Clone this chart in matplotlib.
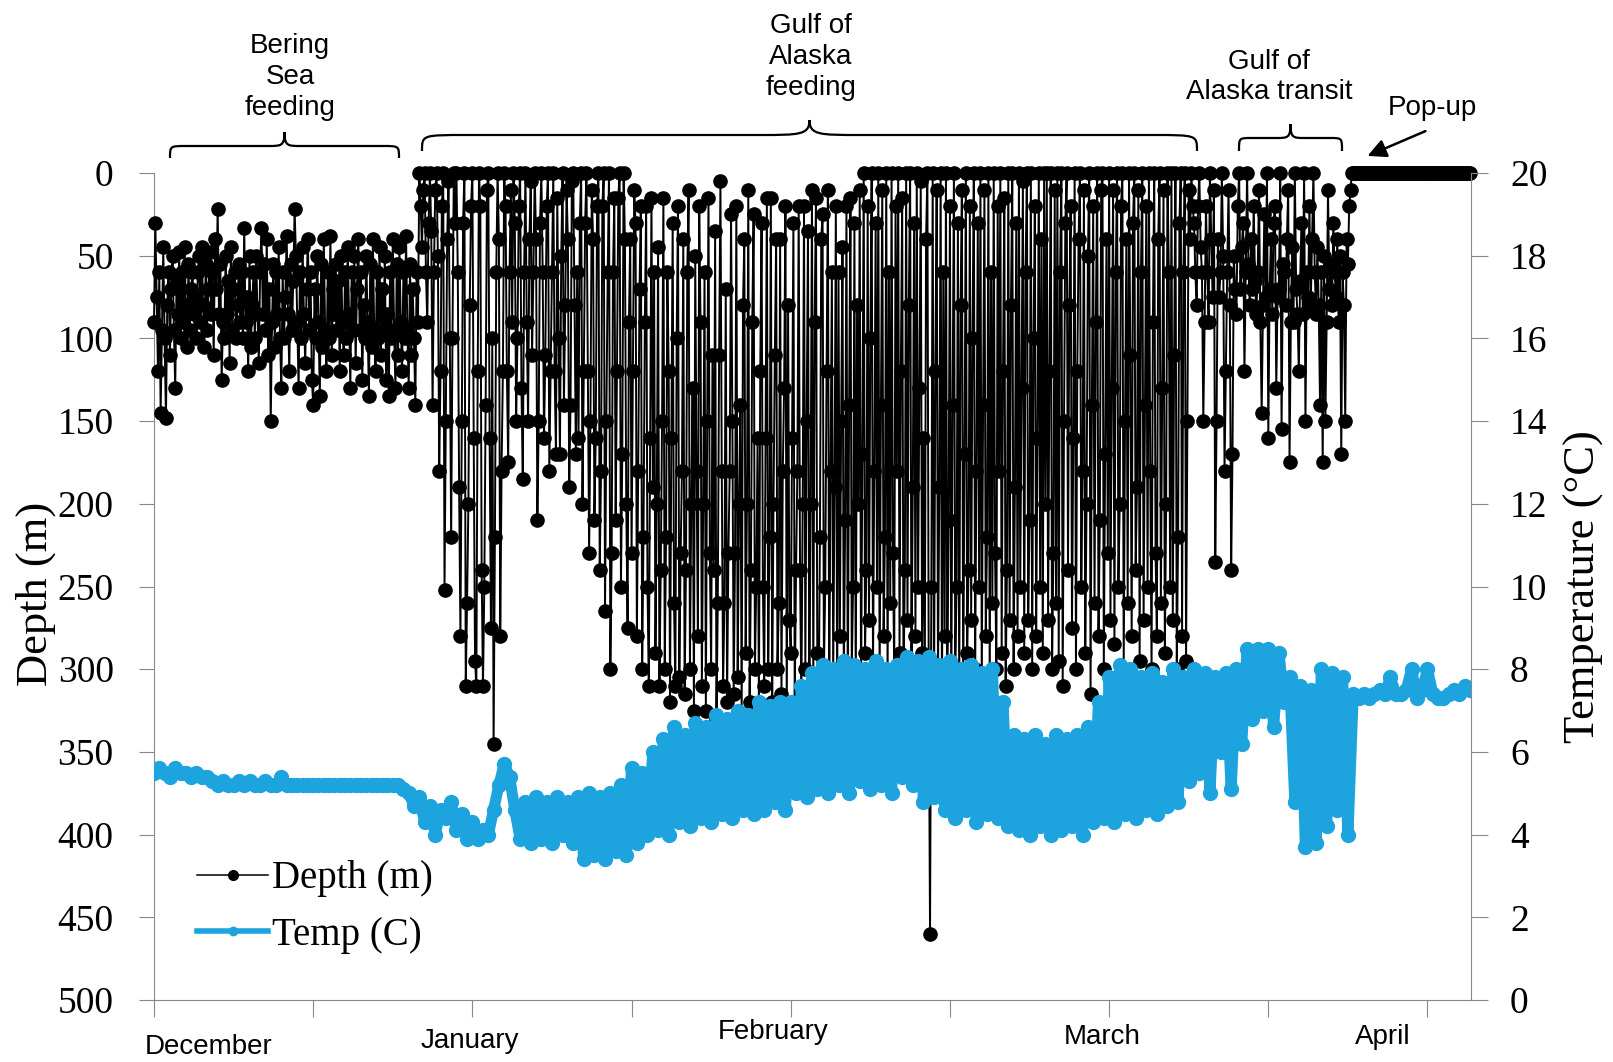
import numpy as np
import matplotlib
matplotlib.use("Agg")
import matplotlib.pyplot as plt
from matplotlib.path import Path
from matplotlib.patches import PathPatch

plt.rcParams['font.family'] = ['Liberation Serif', 'DejaVu Serif']

# Depth (m), one reading every 3 h from 1 December (8 readings = 1 day per row)
depth_m = [
    # Bering Sea feeding
    90, 30, 75, 120, 60, 145, 95, 45,
    100, 148, 80, 60, 110, 70, 50, 95,
    130, 65, 85, 48, 100, 60, 90, 45,
    80, 105, 55, 95, 70, 60, 85, 75,
    100, 60, 50, 90, 45, 80, 105, 55,
    95, 70, 48, 85, 60, 110, 40, 70,
    22, 85, 55, 125, 90, 100, 50, 85,
    65, 115, 45, 95, 70, 60, 100, 80,
    55, 90, 60, 100, 33, 90, 75, 120,
    50, 105, 80, 60, 100, 50, 85, 115,
    60, 33, 85, 55, 95, 40, 110, 70,
    150, 90, 55, 105, 60, 85, 45, 100,
    130, 60, 100, 75, 38, 85, 120, 55,
    95, 65, 22, 50, 90, 130, 60, 100,
    45, 85, 115, 70, 40, 95, 60, 125,
    140, 70, 100, 50, 90, 135, 55, 105,
    40, 95, 120, 60, 100, 38, 110, 70,
    85, 55, 95, 65, 120, 50, 90, 110,
    60, 100, 45, 85, 130, 60, 95, 50,
    115, 70, 40, 95, 60, 125, 80, 100,
    50, 90, 135, 55, 105, 40, 95, 120,
    60, 100, 45, 110, 70, 95, 50, 125,
    85, 135, 60, 100, 40, 95, 130, 55,
    110, 45, 90, 120, 60, 100, 38, 95,
    130, 55, 110, 70, 100, 140, 60, 90,
    # Gulf of Alaska feeding
    0, 20, 45, 10, 0, 60, 90, 30,
    0, 35, 140, 60, 10, 0, 50, 180,
    120, 20, 0, 252, 150, 40, 5, 100,
    220, 100, 0, 30, 0, 60, 190, 280,
    150, 30, 0, 310, 260, 200, 80, 20,
    0, 160, 295, 310, 120, 0, 20, 240,
    310, 250, 140, 10, 0, 160, 275, 100,
    345, 220, 60, 0, 40, 280, 180, 120,
    0, 20, 120, 175, 60, 10, 90, 0,
    30, 150, 100, 20, 0, 130, 185, 60,
    0, 90, 150, 40, 5, 110, 60, 0,
    40, 210, 150, 30, 0, 60, 160, 110,
    20, 0, 180, 120, 60, 0, 120, 170,
    15, 100, 170, 50, 0, 140, 80, 10,
    40, 190, 140, 5, 0, 80, 170, 60,
    160, 30, 0, 200, 120, 30, 0, 120,
    230, 150, 10, 40, 210, 160, 20, 0,
    240, 180, 20, 0, 265, 150, 60, 0,
    300, 230, 60, 15, 210, 120, 15, 0,
    250, 170, 0, 40, 200, 275, 90, 40,
    230, 120, 10, 30, 280, 180, 70, 20,
    300, 220, 90, 20, 250, 310, 160, 15,
    190, 60, 290, 200, 45, 310, 240, 150,
    15, 300, 220, 60, 120, 320, 160, 30,
    260, 310, 100, 20, 305, 230, 180, 40,
    315, 240, 60, 10, 300, 200, 130, 325,
    50, 180, 280, 20, 90, 310, 200, 60,
    325, 150, 15, 230, 300, 110, 240, 35,
    330, 260, 110, 5, 180, 310, 260, 70,
    320, 230, 180, 25, 150, 315, 230, 20,
    305, 200, 140, 330, 80, 40, 290, 200,
    10, 320, 240, 90, 25, 300, 250, 160,
    325, 120, 30, 250, 310, 160, 15, 300,
    220, 15, 320, 200, 110, 40, 300, 260,
    40, 315, 180, 130, 20, 330, 80, 270,
    290, 160, 30, 320, 240, 180, 20, 240,
    320, 200, 20, 300, 150, 35, 325, 200,
    10, 310, 90, 15, 290, 330, 220, 40,
    25, 300, 250, 120, 10, 320, 180, 60,
    305, 190, 20, 330, 60, 280, 150, 45,
    310, 210, 20, 325, 140, 15, 300, 250,
    30, 320, 80, 200, 10, 315, 170, 0,
    290, 240, 20, 270, 100, 0, 300, 180,
    30, 250, 0, 310, 140, 10, 280, 220,
    0, 315, 60, 260, 0, 230, 300, 20,
    180, 0, 290, 120, 15, 310, 240, 0,
    270, 80, 0, 300, 190, 30, 280, 0,
    250, 130, 5, 290, 160, 320, 40, 0,
    300, 460, 250, 0, 320, 120, 10, 305,
    190, 0, 330, 60, 280, 0, 310, 210,
    20, 325, 140, 0, 300, 250, 30, 320,
    80, 10, 315, 170, 0, 290, 240, 20,
    270, 100, 0, 300, 180, 30, 250, 0,
    310, 140, 10, 280, 220, 0, 315, 60,
    260, 0, 230, 300, 20, 180, 0, 290,
    120, 15, 310, 240, 0, 270, 80, 0,
    300, 190, 30, 280, 0, 250, 130, 5,
    290, 60, 0, 270, 210, 0, 300, 100,
    20, 280, 160, 0, 250, 40, 290, 0,
    200, 0, 270, 120, 0, 300, 230, 10,
    260, 0, 295, 60, 0, 310, 150, 30,
    0, 240, 80, 20, 275, 160, 0, 300,
    120, 40, 0, 250, 180, 10, 290, 200,
    50, 0, 315, 140, 20, 260, 90, 0,
    280, 210, 10, 0, 300, 170, 40, 230,
    0, 270, 130, 10, 285, 60, 0, 250,
    200, 20, 0, 300, 150, 40, 260, 0,
    110, 280, 30, 0, 240, 190, 10, 295,
    60, 0, 270, 140, 20, 250, 0, 180,
    300, 90, 0, 230, 280, 40, 0, 260,
    130, 10, 290, 200, 0, 60, 250, 0,
    270, 110, 0, 300, 220, 30, 0, 280,
    60, 0, 295, 150, 10, 40, 0, 20,
    # Gulf of Alaska transit
    30, 60, 80, 20, 0, 45, 60, 150,
    90, 20, 60, 90, 0, 40, 75, 10,
    235, 150, 40, 75, 60, 0, 50, 180,
    120, 60, 10, 80, 240, 170, 50, 70,
    85, 20, 0, 70, 45, 30, 120, 60,
    0, 55, 80, 40, 70, 20, 65, 85,
    60, 10, 90, 145, 80, 25, 75, 0,
    160, 70, 40, 85, 30, 20, 130, 75,
    70, 0, 155, 55, 60, 80, 40, 10,
    175, 90, 45, 90, 0, 70, 85, 120,
    65, 30, 85, 0, 150, 60, 75, 20,
    80, 40, 0, 60, 85, 45, 80, 140,
    60, 175, 50, 150, 90, 10, 70, 55,
    80, 30, 60, 75, 40, 90, 50, 170,
    60, 80, 150, 40, 55, 20, 10, 0,
    # pop-up, tag floating at the surface
    0, 0, 0, 0, 0, 0, 0, 0,
    0, 0, 0, 0, 0, 0, 0, 0,
    0, 0, 0, 0, 0, 0, 0, 0,
    0, 0, 0, 0, 0, 0, 0, 0,
    0, 0, 0, 0, 0, 0, 0, 0,
    0, 0, 0, 0, 0, 0, 0, 0,
    0, 0, 0, 0, 0, 0, 0, 0,
    0, 0, 0, 0, 0, 0, 0, 0,
    0, 0, 0, 0, 0, 0, 0, 0,
    0, 0, 0, 0, 0, 0, 0, 0,
    0, 0, 0, 0, 0, 0, 0, 0,
    0,
]

# Temperature (C), one reading every 12 h from 1 December
temp_c = [
    5.5, 5.6, 5.5, 5.4, 5.6, 5.5, 5.5, 5.4, 5.5, 5.4,
    5.4, 5.3, 5.2, 5.3, 5.2, 5.2, 5.3, 5.2, 5.3, 5.2,
    5.2, 5.3, 5.2, 5.2, 5.4, 5.2, 5.2, 5.2, 5.2, 5.2,
    5.2, 5.2, 5.2, 5.2, 5.2, 5.2, 5.2, 5.2, 5.2, 5.2,
    5.2, 5.2, 5.2, 5.2, 5.2, 5.2, 5.2, 5.1, 5.0, 4.7,
    4.9, 4.3, 4.7, 4.0, 4.6, 4.4, 4.8, 4.1, 4.5, 3.9,
    4.3, 3.9, 4.1, 4.0, 4.6, 5.2, 5.7, 5.4, 4.6, 3.9,
    4.8, 3.8, 4.9, 3.9, 4.8, 3.8, 4.9, 4.0, 4.8, 3.8,
    4.9, 3.4, 5.0, 3.5, 4.9, 3.4, 5.0, 3.6, 5.2, 3.5,
    5.6, 3.8, 5.5, 4.0, 6.0, 4.1, 6.3, 4.0, 6.6, 4.3,
    6.4, 4.2, 6.7, 4.4, 6.6, 4.3, 6.9, 4.5, 6.8, 4.4,
    7.0, 4.6, 6.9, 4.5, 7.2, 4.6, 7.1, 4.8, 7.2, 4.6,
    7.2, 5.0, 7.6, 4.9, 7.9, 5.1, 8.1, 5.0, 8.0, 5.2,
    8.2, 5.0, 8.1, 5.3, 8.0, 5.1, 8.2, 5.2, 8.0, 5.0,
    8.1, 5.4, 8.3, 5.2, 8.2, 4.8, 8.3, 4.9, 8.1, 4.6,
    8.2, 4.4, 8.0, 4.6, 8.1, 4.3, 7.9, 4.5, 8.0, 4.4,
    7.2, 4.2, 6.4, 4.1, 6.3, 4.0, 6.4, 4.2, 6.2, 4.0,
    6.4, 4.1, 6.3, 4.2, 6.4, 4.0, 6.6, 4.3, 7.2, 4.4,
    7.8, 4.3, 8.1, 4.5, 8.0, 4.4, 7.8, 4.6, 7.9, 4.5,
    7.7, 4.7, 8.0, 4.8, 7.8, 5.3, 8.0, 5.5, 7.9, 5.0,
    7.8, 6.0, 7.9, 5.1, 8.0, 6.2, 8.5, 6.8, 8.5, 7.0,
    8.5, 6.6, 8.4, 7.2, 7.8, 4.8, 7.6, 3.7, 7.5, 3.8,
    8.0, 4.2, 7.9, 4.6, 7.8, 4.0, 7.4, 7.3, 7.4, 7.3,
    7.4, 7.5, 7.4, 7.8, 7.4, 7.4, 7.5, 8.0, 7.3, 7.5,
    8.0, 7.4, 7.3, 7.3, 7.4, 7.5, 7.4, 7.6, 7.5,
]

depth_days = np.arange(len(depth_m)) * 0.125
temp_days = np.arange(len(temp_c)) * 0.5

month_names = ['December', 'January', 'February', 'March', 'April']
month_label_px = [(209, 1047), (470, 1041), (773, 1032), (1102, 1037), (1383, 1037)]

W, H = 1613, 1062
fig = plt.figure(figsize=(W / 100, H / 100), dpi=100)
ax = fig.add_axes([154 / W, 1 - 1000 / H, (1471 - 154) / W, (1000 - 173) / H])
ax2 = ax.twinx()

grey = '#888888'
blue = '#1DA4DF'

ax.plot(depth_days, depth_m, color='black', lw=1.4, marker='o', ms=9.5,
        clip_on=False, zorder=3)
ax2.plot(temp_days, temp_c, color=blue, lw=8, marker='o', ms=10, mec=blue)

ax.set_xlim(0, 124.1)
ax.set_xticks(np.arange(0, 121, 15))
ax.set_xticklabels([])
ax.set_ylim(500, 0)
ax.set_yticks(np.arange(0, 501, 50))
ax2.set_ylim(0, 20)
ax2.set_yticks(np.arange(0, 21, 2))

for s in ['top', 'right']:
    ax.spines[s].set_visible(False)
for s in ['top', 'left', 'bottom']:
    ax2.spines[s].set_visible(False)
for s in ['left', 'bottom']:
    ax.spines[s].set_color(grey)
ax2.spines['right'].set_color(grey)

ax.tick_params(axis='x', direction='out', length=12, color=grey)
ax.tick_params(axis='y', direction='out', length=11, color=grey, pad=18, labelsize=27)
ax2.tick_params(axis='y', direction='out', length=12, color=grey, pad=16, labelsize=27)

ax.text(-0.0896, 0.491, 'Depth (m)', transform=ax.transAxes, rotation=90,
        ha='center', va='center', fontsize=32)
ax2.text(1.086, 0.5, 'Temperature (°C)', transform=ax.transAxes, rotation=90,
         ha='center', va='center', fontsize=32)

# legend handles drawn thinner than the series, as in the original
h1, = ax.plot([], [], color='black', lw=1.1, marker='o', ms=7)
h2, = ax.plot([], [], color=blue, lw=4, marker='o', ms=6, mec=blue)
ax2.legend([h1, h2], ['Depth (m)', 'Temp (C)'], loc='lower left',
           bbox_to_anchor=(0.0327, 0.056), frameon=False, fontsize=28,
           handlelength=1.83, handletextpad=0.1, labelspacing=0.5,
           borderpad=0, borderaxespad=0)

# overlay in pixel coordinates for labels and braces
ov = fig.add_axes([0, 0, 1, 1], zorder=5)
ov.set_xlim(0, W)
ov.set_ylim(H, 0)
ov.axis('off')

sans = ['Liberation Sans', 'DejaVu Sans']
for name, (x, y) in zip(month_names, month_label_px):
    ov.text(x, y, name, ha='center', va='center', fontsize=20, family=sans)


def brace(x0, x1, yh, yb, yt, r_end, r_tip):
    xm = (x0 + x1) / 2
    verts = [(x0, yb), (x0, yh), (x0, yh), (x0 + r_end, yh),
             (xm - r_tip, yh),
             (xm - 0.2 * r_tip, yh), (xm, yh), (xm, yt),
             (xm, yh), (xm + 0.2 * r_tip, yh), (xm + r_tip, yh),
             (x1 - r_end, yh),
             (x1, yh), (x1, yh), (x1, yb)]
    codes = [Path.MOVETO, Path.CURVE4, Path.CURVE4, Path.CURVE4,
             Path.LINETO,
             Path.CURVE4, Path.CURVE4, Path.CURVE4,
             Path.CURVE4, Path.CURVE4, Path.CURVE4,
             Path.LINETO,
             Path.CURVE4, Path.CURVE4, Path.CURVE4]
    ov.add_patch(PathPatch(Path(verts, codes), fill=False, lw=1.6, color='black'))


brace(170, 399, 146, 158, 132, 16, 16)
brace(422, 1197, 135, 151, 120, 45, 50)
brace(1239, 1342, 138, 151, 124, 12, 14)

ov.text(290, 77, 'Bering\nSea\nfeeding', ha='center', va='center', fontsize=20,
        family=sans, linespacing=1.24)
ov.text(811, 57, 'Gulf of\nAlaska\nfeeding', ha='center', va='center', fontsize=20,
        family=sans, linespacing=1.24)
ov.text(1269, 77, 'Gulf of\nAlaska transit', ha='center', va='center', fontsize=20,
        family=sans, linespacing=1.24)
ov.text(1432, 108, 'Pop-up', ha='center', va='center', fontsize=20, family=sans)
ov.annotate('', xy=(1365, 157), xytext=(1428, 130),
            arrowprops=dict(arrowstyle='-|>', color='black', lw=1.8, mutation_scale=28))

fig.savefig('out.png', dpi=100)
